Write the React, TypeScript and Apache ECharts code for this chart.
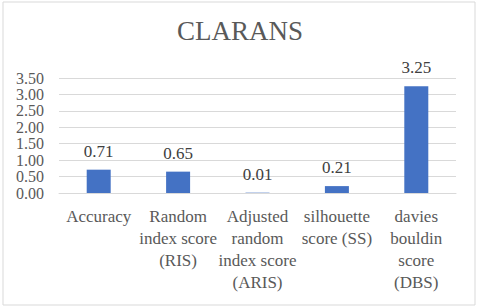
import React, { useEffect, useRef } from "react";
import * as echarts from "echarts";

const categories = [
  "Accuracy",
  "Random\nindex score\n(RIS)",
  "Adjusted\nrandom\nindex score\n(ARIS)",
  "silhouette\nscore (SS)",
  "davies\nbouldin\nscore\n(DBS)",
];
const values = [0.71, 0.65, 0.01, 0.21, 3.25];
const titleText = "CLARANS";
const FONT = "Liberation Serif";

export default function App() {
  const ref = useRef<HTMLDivElement>(null);
  useEffect(() => {
    if (!ref.current) return;
    const chart = echarts.init(ref.current, null, { renderer: "svg" });
    chart.setOption({
      animation: false,
      backgroundColor: "#ffffff",
      textStyle: { fontFamily: FONT },
      title: {
        text: titleText,
        left: "center",
        top: 12,
        textStyle: { fontFamily: FONT, fontSize: 27, fontWeight: "normal", color: "#595959" },
      },
      graphic: [
        {
          type: "rect",
          shape: { x: 3, y: 2, width: 472, height: 303 },
          style: { fill: "none", stroke: "#d9d9d9", lineWidth: 1 },
          silent: true,
        },
      ],
      grid: { left: 59, right: 24, top: 78, bottom: 115 },
      xAxis: {
        type: "category",
        data: categories,
        axisLine: { lineStyle: { color: "#d9d9d9" } },
        axisTick: { show: false },
        axisLabel: {
          interval: 0,
          margin: 12,
          fontFamily: FONT,
          fontSize: 17,
          lineHeight: 22,
          color: "#595959",
        },
      },
      yAxis: {
        type: "value",
        min: 0,
        max: 3.5,
        interval: 0.5,
        axisLine: { show: false },
        axisTick: { show: false },
        splitLine: { lineStyle: { color: "#d9d9d9" } },
        axisLabel: {
          margin: 15,
          showMinLabel: true,
          showMaxLabel: true,
          hideOverlap: false,
          fontFamily: FONT,
          fontSize: 16,
          lineHeight: 16,
          color: "#595959",
          formatter: (v: number) => v.toFixed(2),
        },
      },
      series: [
        {
          type: "bar",
          data: values,
          barWidth: 24,
          itemStyle: { color: "#4472c4" },
          label: {
            show: true,
            position: "top",
            distance: 10,
            fontFamily: FONT,
            fontSize: 17,
            color: "#404040",
            formatter: (p: any) => Number(p.value).toFixed(2),
          },
        },
      ],
    });
    return () => chart.dispose();
  }, []);
  return <div ref={ref} style={{ width: 480, height: 308, position: "absolute", left: 0, top: 0 }} />;
}
